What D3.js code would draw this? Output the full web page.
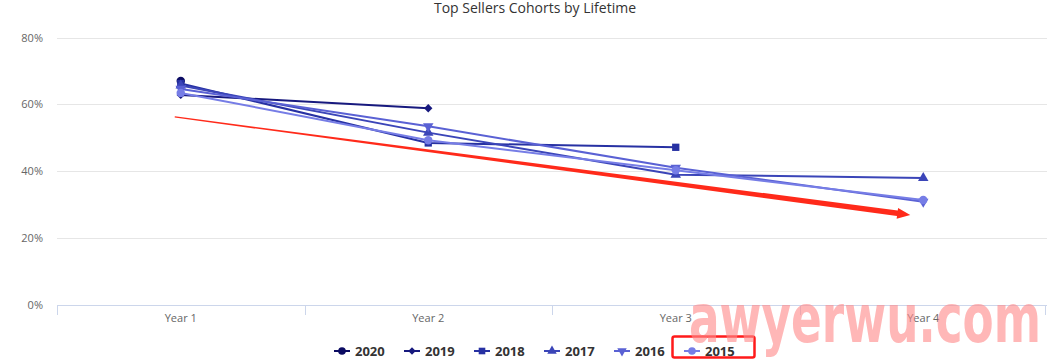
<!DOCTYPE html>
<html><head><meta charset="utf-8">
<script src="https://cdn.jsdelivr.net/npm/d3@7"></script>
<style>body{margin:0;background:#fff;} svg{display:block;font-family:"Open Sans","DejaVu Sans",sans-serif;}</style>
</head><body><svg id="c" width="1047" height="360"></svg>
<script>
const categories = ["Year 1","Year 2","Year 3","Year 4"];
const seriesNames = ["2020","2019","2018","2017","2016","2015"];
const v2020 = [67.0];
const v2019 = [62.8, 58.8];
const v2018 = [66.2, 48.4, 47.1];
const v2017 = [65.6, 51.5, 38.9, 37.9];
const v2016 = [64.6, 53.4, 41.0, 30.8];
const v2015 = [63.4, 49.2, 40.2, 31.3];
const yTicks = [0, 20, 40, 60, 80];
const colors = ["#0b0b62","#17197e","#2731a3","#3b45b8","#5a61d4","#767de6"];
const symbols = ["circle","diamond","square","triangle","triangleDown","circle"];
const trend = [{cat:"Year 1", v:56.2}, {cat:"Year 4", v:26.8}];

const seriesValues = [v2020, v2019, v2018, v2017, v2016, v2015];
const svg = d3.select("#c");
const L = 57, R = 1047, T = 37.5, B = 304.5;
const x = d3.scaleBand().domain(categories).range([L, R]);
const y = d3.scaleLinear().domain([0, 80]).range([B, T]);

// title
svg.append("text").attr("x", 535).attr("y", 13).attr("text-anchor","middle")
  .attr("font-size", 14).attr("fill","#333").text("Top Sellers Cohorts by Lifetime");

// grid
svg.append("g").selectAll("line").data(yTicks.filter(d=>d>0)).join("line")
  .attr("x1", L).attr("x2", R).attr("y1", d=>Math.round(y(d))+0.5).attr("y2", d=>Math.round(y(d))+0.5)
  .attr("stroke","#e6e6e6");

// y axis labels
const yAxis = d3.axisLeft(y).tickValues(yTicks).tickFormat(d=>d+"%").tickSize(0).tickPadding(0);
const gy = svg.append("g").attr("transform",`translate(${43},0)`).call(yAxis);
gy.select(".domain").remove();
gy.selectAll("text").attr("font-size",11).attr("fill","#666").attr("font-family","'Open Sans','DejaVu Sans',sans-serif");

// x axis
const xAxis = d3.axisBottom(x).tickSize(0).tickPadding(9);
const gx = svg.append("g").attr("transform",`translate(0,${Math.round(B)+0.5})`).call(xAxis);
gx.select(".domain").attr("stroke","#ccd6eb").attr("d",`M${L},0H${R}`);
gx.selectAll("text").attr("font-size",11).attr("fill","#666").attr("font-family","'Open Sans','DejaVu Sans',sans-serif");
const bounds = categories.map(c=>x(c)).concat([R-2]);
svg.append("g").selectAll("line").data(bounds).join("line")
  .attr("x1", d=>Math.round(d)+0.5).attr("x2", d=>Math.round(d)+0.5)
  .attr("y1", Math.round(B)).attr("y2", Math.round(B)+10).attr("stroke","#ccd6eb");

const cx = c => x(c) + x.bandwidth()/2;

function sym(g, type, size, color){
  let s;
  if(type==="circle") s = d3.symbol(d3.symbolCircle, size);
  else if(type==="diamond") s = d3.symbol(d3.symbolSquare, size*0.62);
  else if(type==="square") s = d3.symbol(d3.symbolSquare, size*0.95);
  else s = d3.symbol(d3.symbolTriangle, size*0.85);
  const p = g.append("path").attr("d", s()).attr("fill", color);
  if(type==="triangleDown") p.attr("transform","rotate(180)");
  if(type==="diamond") p.attr("transform","rotate(45)");
  return p;
}

// series
const line = d3.line().x((d,i)=>cx(categories[i])).y(d=>y(d));
seriesValues.forEach((vals, k)=>{
  const g = svg.append("g");
  g.append("path").datum(vals).attr("d", line).attr("fill","none")
    .attr("stroke", colors[k]).attr("stroke-width",2).attr("stroke-linejoin","round");
  vals.forEach((v,i)=>{
    const m = g.append("g").attr("transform",`translate(${cx(categories[i])},${y(v)})`);
    sym(m, symbols[k], 56, colors[k]);
  });
});

// red trend arrow (annotation)
(function(){
  const x0 = cx(trend[0].cat) - 6, y0 = y(trend[0].v);
  const x1 = cx(trend[1].cat) - 13, y1 = y(trend[1].v);
  const dx = x1-x0, dy = y1-y0, len = Math.hypot(dx,dy);
  const ux = dx/len, uy = dy/len, nx = -uy, ny = ux;
  const head = 13, hw = 5.5, w0 = 0.6, w1 = 2.8;
  const bx = x1 - ux*head, by = y1 - uy*head;
  const pts = [
    [x0+nx*w0, y0+ny*w0],[bx+nx*w1, by+ny*w1],[bx+nx*hw, by+ny*hw],[x1,y1],
    [bx-nx*hw, by-ny*hw],[bx-nx*w1, by-ny*w1],[x0-nx*w0, y0-ny*w0]];
  svg.append("path").attr("d", d3.line()(pts)+"Z").attr("fill","#ff2a1a");
})();

// legend
const legY = 351, legStart = 334, legStep = 70;
const lg = svg.append("g");
seriesNames.forEach((n,k)=>{
  const gx0 = legStart + k*legStep;
  const g = lg.append("g").attr("transform",`translate(${gx0},${legY})`);
  g.append("line").attr("x1",0).attr("x2",16).attr("y1",0).attr("y2",0).attr("stroke",colors[k]).attr("stroke-width",2);
  const m = g.append("g").attr("transform","translate(8,0)");
  sym(m, symbols[k], 46, colors[k]);
  g.append("text").attr("x",21).attr("y",5).attr("font-size",13).attr("font-weight","bold")
    .attr("fill","#333").text(n);
});

// red highlight box around last legend item
svg.append("rect").attr("x", legStart + 5*legStep - 11.5).attr("y", 336.5).attr("width", 82).attr("height", 21)
  .attr("rx", 2).attr("fill","none").attr("stroke","#ff1a1a").attr("stroke-width",2.5);

// watermark
svg.append("text").attr("x", 689).attr("y", 342).attr("font-size", 68).attr("font-weight","bold")
  .attr("font-family","'DejaVu Sans',sans-serif").attr("fill","#ff8a8a").attr("fill-opacity",0.62)
  .attr("textLength", 352).attr("lengthAdjust","spacingAndGlyphs").text("awyerwu.com");
</script></body></html>
